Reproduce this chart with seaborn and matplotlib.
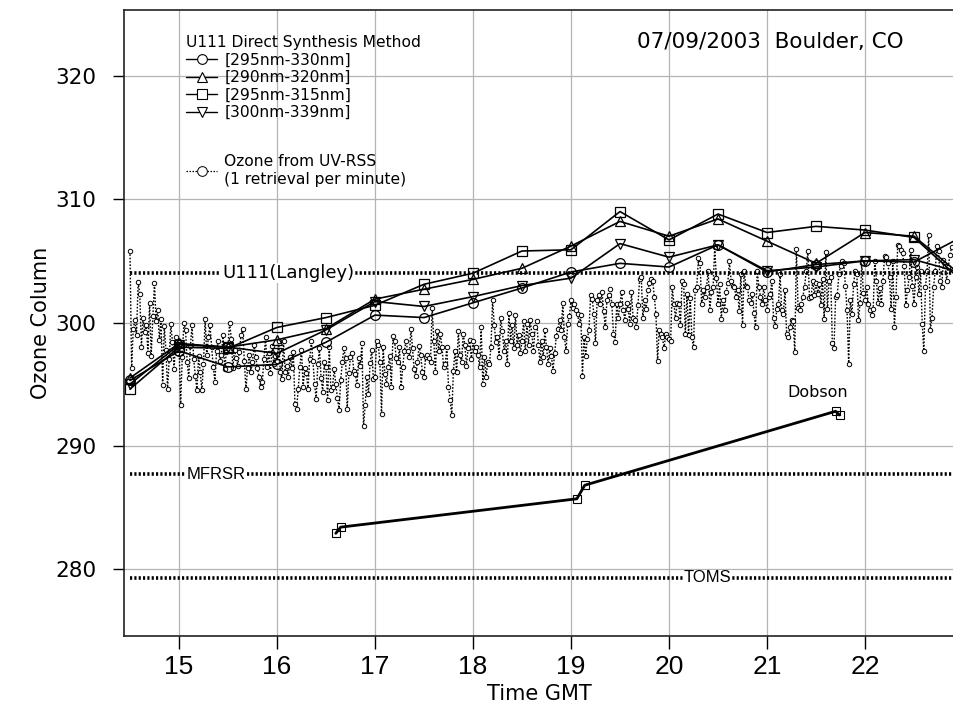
import numpy as np
import pandas as pd
import matplotlib
matplotlib.use("Agg")
import matplotlib.pyplot as plt
import seaborn as sns
from matplotlib.lines import Line2D

# ---------------- data ----------------
synth_times = [14.5, 15.0, 15.5, 16.0, 16.5, 17.0, 17.5, 18.0, 18.5, 19.0,
               19.5, 20.0, 20.5, 21.0, 21.5, 22.0, 22.5, 23.0]
band_295_330 = [295.3, 297.7, 296.4, 296.6, 298.4, 300.6, 300.4, 301.6, 302.8, 304.1,
                304.8, 304.5, 306.3, 304.1, 304.7, 305.0, 304.9, 307.0]
band_290_320 = [295.5, 298.3, 298.0, 298.6, 299.5, 301.9, 302.7, 303.5, 304.4, 306.2,
                308.2, 307.0, 308.4, 306.6, 304.8, 307.3, 307.0, 303.7]
band_295_315 = [294.6, 298.0, 297.9, 299.6, 300.4, 301.4, 303.1, 304.0, 305.8, 305.9,
                309.0, 306.7, 308.8, 307.3, 307.8, 307.5, 306.9, 303.3]
band_300_339 = [295.0, 298.2, 298.0, 297.5, 299.4, 301.7, 301.3, 302.1, 303.0, 303.6,
                306.4, 305.3, 306.3, 304.2, 304.5, 305.0, 305.1, 304.0]

# UV-RSS: one retrieval per minute starting 14.5 GMT
rss_start_hour = 14.5
rss_values = [
    # 14.5 - 15.0
    305.8, 296.3, 299.5, 300.2, 299.0, 303.3, 302.3, 298.0, 300.4, 299.2,
    299.8, 297.5, 301.6, 297.3, 300.5, 303.2, 300.1, 301.0, 298.6, 300.3,
    294.9, 299.7, 297.8, 294.6, 297.0, 299.9, 298.4, 296.2, 298.8, 297.5,
    # 15.0 - 15.5
    298.5, 293.3, 297.2, 300.0, 299.4, 296.8, 295.5, 298.1, 299.8, 297.0,
    295.7, 294.5, 297.3, 296.0, 294.5, 296.6, 300.3, 297.4, 298.8, 299.8,
    298.0, 296.4, 295.2, 297.7, 298.5, 296.9, 297.4, 299.0, 296.2, 297.6,
    # 15.5 - 16.0
    298.1, 300.0, 298.7, 296.3, 297.8, 297.1, 296.5, 297.6, 299.0, 299.5,
    296.9, 294.6, 296.3, 297.4, 296.0, 296.8, 298.2, 297.2, 296.3, 295.6,
    294.8, 295.2, 297.0, 298.8, 296.4, 297.5, 295.9, 298.1, 296.6, 297.3,
    # 16.0 - 16.5
    296.9, 298.5, 296.0, 295.4, 298.5, 296.0, 296.5, 295.6, 297.2, 296.3,
    297.6, 293.4, 293.0, 294.6, 296.4, 297.8, 294.8, 296.3, 295.9, 294.6,
    297.0, 298.5, 296.9, 295.0, 293.8, 296.6, 297.9, 295.5, 294.4, 296.8,
    # 16.5 - 17.0
    296.4, 293.7, 298.0, 294.5, 294.8, 296.2, 295.0, 293.9, 292.9, 295.3,
    296.8, 297.9, 297.1, 293.0, 295.9, 297.2, 297.5, 296.1, 295.8, 294.9,
    297.1, 296.5, 298.3, 291.6, 293.3, 295.6, 294.2, 296.7, 297.8, 295.4,
    # 17.0 - 17.5
    295.6, 298.5, 298.2, 296.8, 292.6, 298.0, 295.8, 295.0, 296.4, 297.3,
    294.8, 298.9, 298.5, 297.1, 296.8, 298.0, 294.8, 296.4, 297.7, 298.5,
    297.7, 297.2, 299.5, 297.9, 296.2, 295.7, 296.8, 298.1, 297.4, 296.0,
    # 17.5 - 18.0
    295.6, 297.2, 297.4, 297.1, 296.8, 301.2, 298.5, 296.0, 299.3, 297.7,
    299.1, 298.0, 296.4, 296.6, 298.0, 294.8, 293.7, 292.5, 296.1, 297.7,
    296.0, 299.3, 297.4, 296.8, 299.1, 298.2, 296.5, 297.9, 298.6, 297.0,
    # 18.0 - 18.5
    298.5, 297.7, 298.0, 297.4, 296.4, 299.6, 295.0, 297.2, 295.6, 296.8,
    296.6, 298.0, 301.8, 299.8, 298.4, 298.8, 297.2, 300.4, 299.3, 297.7,
    298.5, 296.6, 300.8, 298.5, 299.8, 297.9, 300.6, 298.2, 299.0, 297.5,
    # 18.5 - 19.0
    298.5, 300.1, 297.7, 299.9, 298.2, 300.2, 299.1, 297.7, 299.6, 300.1,
    298.2, 296.8, 298.5, 297.2, 299.4, 298.0, 296.6, 297.9, 297.3, 296.1,
    297.5, 298.9, 299.5, 300.2, 299.4, 301.6, 298.8, 297.7, 299.9, 300.5,
    # 19.0 - 19.5
    301.8, 301.2, 301.5, 301.0, 300.7, 299.9, 300.6, 295.7, 298.8, 297.3,
    298.7, 299.4, 302.2, 301.9, 300.7, 298.3, 301.8, 302.2, 301.5, 302.5,
    300.9, 299.6, 301.8, 302.2, 302.7, 301.5, 299.1, 298.4, 301.5, 300.4,
    # 19.5 - 20.0
    301.5, 302.5, 301.0, 300.2, 301.6, 301.1, 299.9, 302.5, 300.4, 300.2,
    299.6, 301.4, 303.5, 303.7, 300.4, 301.8, 301.1, 302.6, 303.2, 303.5,
    303.4, 302.1, 300.7, 296.9, 299.4, 299.1, 298.8, 297.9, 299.1, 298.8,
    # 20.0 - 20.5
    298.7, 298.5, 302.9, 301.5, 300.4, 301.6, 301.5, 299.8, 303.4, 303.1,
    299.1, 302.3, 299.0, 302.0, 298.8, 298.0, 302.6, 302.9, 305.2, 304.8,
    301.5, 302.6, 302.1, 302.9, 304.2, 301.0, 302.5, 302.9, 306.1, 303.6,
    # 20.5 - 21.0
    301.5, 303.1, 300.3, 301.8, 301.0, 302.5, 303.2, 305.0, 303.4, 303.0,
    302.9, 302.1, 302.6, 300.9, 303.9, 299.8, 304.2, 303.0, 302.9, 301.8,
    301.6, 302.3, 300.8, 299.6, 304.2, 302.9, 302.1, 301.5, 302.9, 301.8,
    # 21.0 - 21.5
    301.0, 302.1, 302.3, 303.4, 300.4, 299.7, 301.1, 301.5, 303.9, 301.0,
    300.7, 302.6, 299.1, 298.8, 299.6, 300.2, 300.1, 297.6, 306.0, 301.2,
    301.0, 301.5, 302.1, 302.9, 304.2, 305.8, 302.0, 302.1, 303.4, 302.2,
    # 21.5 - 22.0
    303.2, 302.3, 303.1, 301.4, 303.5, 300.3, 305.7, 301.1, 303.4, 303.7,
    298.3, 297.9, 302.1, 302.2, 303.9, 304.6, 305.0, 304.8, 303.0, 301.0,
    296.6, 301.8, 300.7, 303.1, 304.2, 303.9, 300.2, 301.6, 304.8, 302.4,
    # 22.0 - 22.5
    301.8, 302.9, 301.5, 301.0, 300.6, 301.1, 305.0, 303.4, 301.6, 302.8,
    301.5, 303.4, 305.4, 305.3, 304.8, 303.7, 301.1, 305.0, 299.6, 302.1,
    306.3, 306.2, 305.9, 305.6, 304.6, 301.4, 302.6, 303.7, 305.9, 303.0,
    # 22.5 - 22.9
    301.5, 303.7, 304.5, 302.3, 304.2, 299.9, 297.7, 302.9, 304.2, 307.1,
    299.4, 300.4, 302.9, 304.2, 306.2, 305.8, 303.4, 302.9, 305.1, 304.6,
    303.4, 304.5, 305.5, 306.1,
]
rss_times = rss_start_hour + np.arange(len(rss_values)) / 60.0

dobson_times = [16.60, 16.65, 19.06, 19.14, 21.70, 21.74]
dobson_values = [282.9, 283.4, 285.7, 286.8, 292.8, 292.5]

ref_langley = 304.0
ref_mfrsr = 287.7
ref_toms = 279.3

x_ticks = [15, 16, 17, 18, 19, 20, 21, 22]
y_ticks = [280, 290, 300, 310, 320]

# ---------------- figure ----------------
sns.set_style("white")
plt.rcParams['font.family'] = ['DejaVu Sans']
for k in ['text.color', 'axes.labelcolor', 'xtick.color', 'ytick.color']:
    plt.rcParams[k] = 'black'
narrow = ['Liberation Sans Narrow', 'Liberation Sans', 'DejaVu Sans']

fig = plt.figure(figsize=(9.54, 7.15), dpi=100)
ax = fig.add_axes([124 / 954, 1 - 636 / 715, 830 / 954, 626 / 715])

ax.set_xlim(14.439, 22.908)
ax.set_ylim(274.57, 325.35)

# grid
for xt in x_ticks:
    ax.axvline(xt, color='#b4b4b4', lw=0.9, zorder=0)
for yt in y_ticks:
    ax.axhline(yt, color='#b4b4b4', lw=0.9, zorder=0)

# UV-RSS dotted series
rss_df = pd.DataFrame({'t': rss_times, 'o3': rss_values})
sns.lineplot(data=rss_df, x='t', y='o3', ax=ax, sort=False, estimator=None,
             color='black', lw=1.0, linestyle=(0, (1.2, 1.2)),
             marker='o', markersize=3.2, markerfacecolor='white',
             markeredgecolor='black', markeredgewidth=0.7, zorder=2)

# reference lines (dotted, thick)
ref_kw = dict(color='black', lw=2.6, linestyle=(0, (0.6, 0.6)), zorder=3)
for val in [ref_langley, ref_mfrsr, ref_toms]:
    sns.lineplot(x=[14.5, 22.908], y=[val, val], ax=ax, **ref_kw)

ax.text(15.44, ref_langley, 'U111(Langley)', fontsize=13, ha='left', va='center',
        family=['DejaVu Sans'], bbox=dict(facecolor='white', edgecolor='none', pad=0.8),
        zorder=4)
ax.text(15.08, ref_mfrsr, 'MFRSR', fontsize=12, ha='left', va='center',
        family=narrow, bbox=dict(facecolor='white', edgecolor='none', pad=0.3), zorder=4)
ax.text(20.15, ref_toms, 'TOMS', fontsize=12, ha='left', va='center',
        family=narrow, bbox=dict(facecolor='white', edgecolor='none', pad=0.3), zorder=4)

# synthesis series
synth_series = [
    ('[295nm-330nm]', band_295_330, 'o', 7.0),
    ('[290nm-320nm]', band_290_320, '^', 7.0),
    ('[295nm-315nm]', band_295_315, 's', 6.5),
    ('[300nm-339nm]', band_300_339, 'v', 7.0),
]
handles = []
for label, vals, mk, ms in synth_series:
    df = pd.DataFrame({'t': synth_times, 'o3': vals})
    sns.lineplot(data=df, x='t', y='o3', ax=ax, sort=False, estimator=None,
                 color='black', lw=1.2, marker=mk, markersize=ms,
                 markerfacecolor='none', markeredgecolor='black',
                 markeredgewidth=0.9, zorder=5)
    handles.append(Line2D([], [], color='black', lw=1.0, marker=mk, markersize=ms,
                          markerfacecolor='white', markeredgecolor='black',
                          markeredgewidth=0.8, label=label))

# Dobson
dob_df = pd.DataFrame({'t': dobson_times, 'o3': dobson_values})
sns.lineplot(data=dob_df, x='t', y='o3', ax=ax, sort=False, estimator=None,
             color='black', lw=2.0, marker='s', markersize=6.0,
             markerfacecolor='none', markeredgecolor='black', markeredgewidth=0.8,
             zorder=5)
ax.text(21.52, 294.3, 'Dobson', fontsize=11.5, ha='center', va='center')

# title-like annotation
ax.text(0.618, 0.949, '07/09/2003  Boulder, CO', transform=ax.transAxes,
        fontsize=15.5, ha='left', va='center')

# legend
blank1 = Line2D([], [], color='none', label=' ')
rss_handle = Line2D([], [], color='black', lw=0.9, linestyle=(0, (1.2, 1.2)),
                    marker='o', markersize=7, markerfacecolor='white',
                    markeredgecolor='black', markeredgewidth=0.7,
                    label='Ozone from UV-RSS\n(1 retrieval per minute)')
leg = ax.legend(handles=handles + [blank1, rss_handle], loc='upper left',
                bbox_to_anchor=(0.062, 0.977), frameon=False, fontsize=11.2,
                title='U111 Direct Synthesis Method', title_fontsize=11.2,
                alignment='left', handlelength=2.0, handletextpad=0.45,
                labelspacing=0.16, borderpad=0.2)
leg.get_texts()[4].set_fontsize(22)
leg.set_zorder(10)

# axes styling
ax.set_xticks(x_ticks)
ax.set_yticks(y_ticks)
ax.set_xticklabels([str(v) for v in x_ticks], family=narrow, fontsize=19)
ax.set_yticklabels([str(v) for v in y_ticks], family=['DejaVu Sans'], fontsize=15.5)
ax.tick_params(axis='x', direction='out', length=9, width=1, pad=5, bottom=True)
ax.tick_params(axis='y', direction='out', length=8, width=1, pad=12, left=True)
ax.set_xlabel('Time GMT', fontsize=15, family=['DejaVu Sans'], labelpad=3)
ax.set_ylabel('Ozone Column', fontsize=15, family=['DejaVu Sans'], labelpad=3)
for side in ['left', 'bottom', 'top']:
    ax.spines[side].set_color('#222222')
    ax.spines[side].set_linewidth(1.2)
ax.spines['right'].set_visible(False)

fig.savefig('out.png', dpi=100, facecolor='white')
